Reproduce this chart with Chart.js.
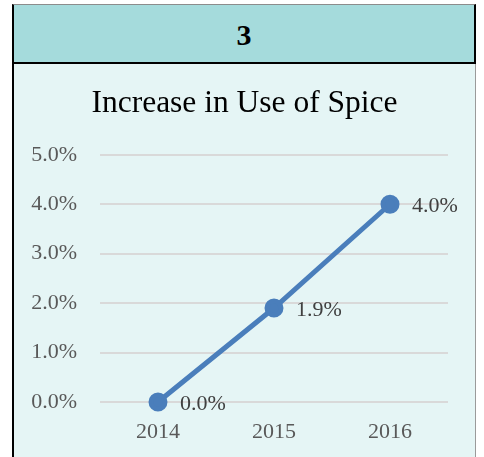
<!DOCTYPE html>
<html lang="en">
<head>
    <meta charset="UTF-8">
    <title>Increase in Use of Spice</title>
    <script src="https://cdn.jsdelivr.net/npm/chart.js"></script>
    <style>
        body { margin: 0; background: #fff; }
        .header {
            position: absolute; left: 12px; top: 4px; width: 460px; height: 57px;
            background: #a5dbdc; border-top: 1px solid #8c8c8c;
            border-left: 2px solid #000; border-right: 2px solid #000; border-bottom: 2px solid #000;
            font: bold 30px "Liberation Serif", serif; text-align: center; line-height: 60px;
        }
        .body {
            position: absolute; left: 12px; top: 64px; width: 461px; height: 393px;
            background: #e5f5f5; border-left: 2px solid #000; border-right: 1px solid #9a9a9a;
        }
        .body canvas { position: absolute; left: 0; top: 0; }
    </style>
</head>
<body>
    <div class="header">3</div>
    <div class="body">
        <canvas id="spiceChart" width="461" height="393"></canvas>
    </div>

    <script>
        // data
        const years = ['2014', '2015', '2016'];
        const spiceUse = [0.0, 1.9, 4.0];
        const yTicks = [0, 1, 2, 3, 4, 5];

        // draw the % labels to the right of each point
        const pointLabels = {
            id: 'pointLabels',
            afterDatasetsDraw(chart) {
                const ctx = chart.ctx;
                const meta = chart.getDatasetMeta(0);
                ctx.save();
                ctx.font = '22px "Liberation Serif", serif';
                ctx.fillStyle = '#404040';
                ctx.textAlign = 'left';
                ctx.textBaseline = 'middle';
                meta.data.forEach((pt, i) => {
                    ctx.fillText(spiceUse[i].toFixed(1) + '%', pt.x + 22, pt.y + 2);
                });
                ctx.restore();
            }
        };

        new Chart(document.getElementById('spiceChart'), {
            type: 'line',
            data: {
                labels: years,
                datasets: [{
                    data: spiceUse,
                    borderColor: '#4a7ebb',
                    backgroundColor: '#4a7ebb',
                    borderWidth: 5,
                    pointRadius: 7,
                    pointHoverRadius: 7,
                    tension: 0,
                    clip: false
                }]
            },
            options: {
                responsive: false,
                animation: false,
                layout: { padding: 0 },
                plugins: {
                    legend: { display: false },
                    tooltip: { enabled: false },
                    title: {
                        display: true,
                        text: 'Increase in Use of Spice',
                        color: '#000',
                        font: { family: '"Liberation Serif", serif', size: 31.5, weight: 'normal' },
                        padding: { top: 21, bottom: 32 }
                    }
                },
                scales: {
                    x: {
                        offset: true,
                        grid: { display: false },
                        border: { display: false },
                        ticks: {
                            color: '#595959', padding: 9,
                            font: { family: '"Liberation Serif", serif', size: 22 }
                        },
                        afterFit(scale) { scale.height = 55; }
                    },
                    y: {
                        min: 0, max: 5,
                        afterBuildTicks(scale) { scale.ticks = yTicks.map(v => ({ value: v })); },
                        grid: { color: '#d9d9d9', lineWidth: 2, drawTicks: false },
                        border: { display: false },
                        ticks: {
                            color: '#595959', padding: 23,
                            font: { family: '"Liberation Serif", serif', size: 22 },
                            callback: v => v.toFixed(1) + '%'
                        },
                        afterFit(scale) { scale.width = 86; }
                    },
                    // empty right-hand strip so the title stays centred on the whole box
                    yRight: {
                        position: 'right',
                        grid: { display: false },
                        border: { display: false },
                        ticks: { display: false },
                        afterFit(scale) { scale.width = 27; }
                    }
                }
            },
            plugins: [pointLabels]
        });
    </script>
</body>
</html>
